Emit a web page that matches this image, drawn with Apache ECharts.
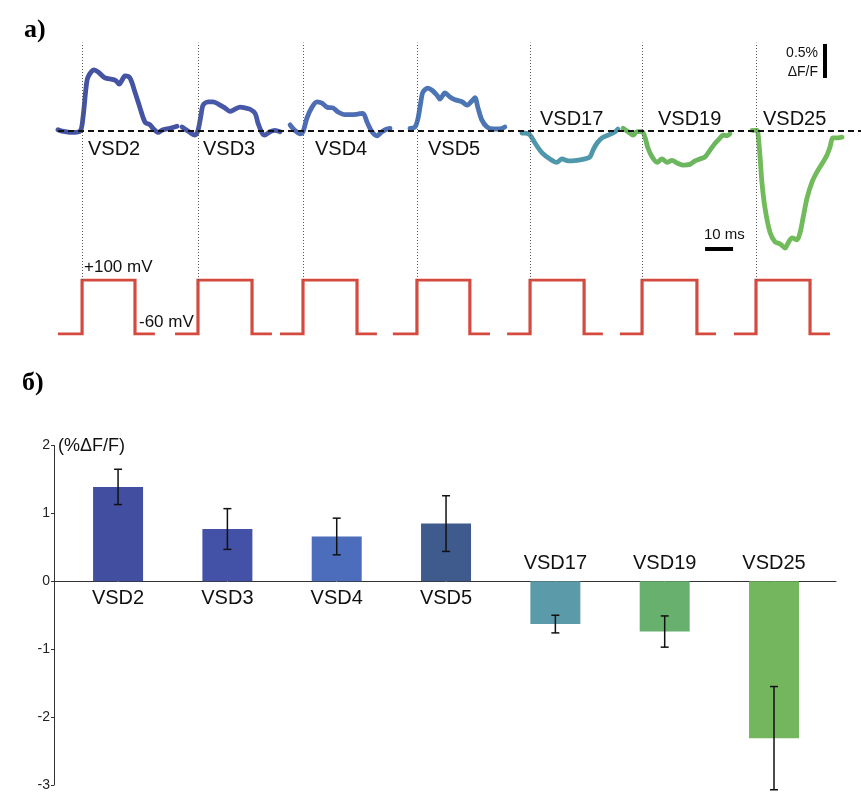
<!DOCTYPE html>
<html><head><meta charset="utf-8">
<script src="https://cdn.jsdelivr.net/npm/echarts@6/dist/echarts.min.js"></script>
<style>html,body{margin:0;padding:0;background:#fff}#c{width:861px;height:792px}</style>
</head><body><div id="c"></div>
<script>
// ---------- DATA ----------
// a) optical traces (time in ms relative to pulse onset, value in %ΔF/F)
const traceNames = ['VSD2','VSD3','VSD4','VSD5','VSD17','VSD19','VSD25'];
const traceOnsets = [8.6, 50, 87.5, 128.2, 168.6, 208.6, 249.3]; // ms on the common time base
const vsd2T = [-8.6,-7.2,-3.6,-0.7,0.3,1.4,2.1,4.3,5.7,8.2,10.7,12.1,13.2,14.3,15.3,17.1,18.9,20.7,22.5,24.3,25.3,27.1,28.9,31.4,33.9];
const vsd2V = [0.02,0,-0.02,0,0.19,0.63,0.79,0.9,0.87,0.78,0.76,0.74,0.69,0.75,0.81,0.78,0.57,0.34,0.13,0.09,0.04,-0.02,0.02,0.04,0.07];
const vsd3T = [-5.7,-3.6,-1.1,0,1.1,1.8,3.6,5.4,7.1,9.6,11.4,13.2,15,16.8,18.6,20.4,21.4,22.9,23.9,25.7,27.5,29.3];
const vsd3V = [0.06,0,-0.06,0.01,0.24,0.38,0.43,0.43,0.40,0.34,0.29,0.32,0.35,0.34,0.32,0.26,0.12,-0.03,-0.06,-0.01,0.01,-0.01];
const vsd4T = [-4.6,-2.9,-1.1,0,1.4,3.2,5,6.8,8.6,10.7,12.5,15,17.5,19.6,21.4,22.9,24.6,26.4,28.2,30,31.1];
const vsd4V = [0.09,0.01,-0.04,-0.01,0.19,0.35,0.43,0.41,0.35,0.34,0.28,0.24,0.24,0.25,0.26,0.13,-0.01,-0.07,-0.01,0.03,0.04];
const vsd5T = [-2.5,-0.7,0.4,1.4,2.1,3.9,5.4,7.1,8.2,10,11.8,13.6,16.1,17.9,19.6,20.7,21.8,23.2,25,27.1,29.6,31.4];
const vsd5V = [0.04,0.06,0.19,0.43,0.57,0.63,0.60,0.53,0.47,0.56,0.50,0.46,0.43,0.38,0.44,0.49,0.34,0.16,0.06,0.03,0.03,0.06];
const vsd17T = [-2.9,-1.8,0,1.8,4.3,7.1,9.6,11.4,13.6,16.8,19.6,21.4,22.5,23.9,25.7,27.9,30.4,31.4];
const vsd17V = [-0.03,-0.03,-0.06,-0.18,-0.32,-0.41,-0.46,-0.41,-0.44,-0.43,-0.41,-0.38,-0.28,-0.18,-0.10,-0.06,-0.01,0.03];
const vsd19T = [-6.8,-5,-3.2,-1.8,0,1.1,2.1,3.6,5.4,7.1,8.9,10.7,12.5,14.6,17.1,18.9,20.7,22.5,24.3,26.1,27.9,28.9,30.4,31.4];
const vsd19V = [0.04,-0.01,-0.06,-0.01,-0.01,-0.10,-0.25,-0.38,-0.46,-0.41,-0.46,-0.43,-0.47,-0.50,-0.49,-0.44,-0.41,-0.38,-0.28,-0.18,-0.10,-0.06,-0.07,-0.04];
const vsd25T = [-1.4,0.4,0.7,1.4,2.1,3.2,5,6.8,8.6,10.4,11.4,12.9,14.6,15.7,16.8,18.2,20,21.8,23.9,25.4,26.4,27.5,29.3,30.7];
const vsd25V = [0.01,0.01,-0.03,-0.35,-0.75,-1.13,-1.49,-1.63,-1.66,-1.72,-1.65,-1.57,-1.60,-1.50,-1.28,-0.99,-0.75,-0.60,-0.46,-0.35,-0.24,-0.10,-0.10,-0.09];
const traceTimes = [vsd2T, vsd3T, vsd4T, vsd5T, vsd17T, vsd19T, vsd25T];
const traceValues = [vsd2V, vsd3V, vsd4V, vsd5V, vsd17V, vsd19V, vsd25V];

// voltage steps (ms on the common time base, mV)
const pulseStart = [0, 41.8, 79.3, 119.6, 160.4, 200.7, 241.4];
const pulseRise  = [8.6, 50, 87.5, 128.2, 168.6, 208.6, 249.3];
const pulseFall  = [27.5, 69.3, 106.8, 147.1, 187.9, 228.2, 268.6];
const pulseEnd   = [34.6, 76.4, 113.9, 154.3, 194.6, 235, 275.7];
const holdingMv = -60;
const stepMv = 100;

// scale bars
const timeBarMs = 10;
const ampBarPct = 0.5;

// b) mean responses
const barCategories = ['VSD2','VSD3','VSD4','VSD5','VSD17','VSD19','VSD25'];
const barMeans = [1.39, 0.77, 0.66, 0.85, -0.63, -0.74, -2.31];
const barErrors = [0.26, 0.30, 0.27, 0.41, 0.13, 0.23, 0.76];

// ---------- STYLE ----------
const traceColors = ['#4553a3','#4758a8','#4e6db5','#4b76b3','#4f97aa','#6bb65e','#71bb5b'];
const barColors = ['#424fa1','#4352a6','#4b6dbb','#3f5a8c','#5b9aa9','#68b06e','#74b65e'];
const pulseColor = '#d44a3f';
const SANS = '"Liberation Sans", Arial, sans-serif';
const SERIF = '"Liberation Serif", "Times New Roman", serif';

const X_MAX = 286.8;

const series = [];
traceNames.forEach((n, i) => {
  series.push({
    type: 'line', name: n, xAxisIndex: 0, yAxisIndex: 0,
    data: traceTimes[i].map((t, k) => [traceOnsets[i] + t, traceValues[i][k]]),
    symbol: 'none', smooth: 0.3,
    lineStyle: { color: traceColors[i], width: 4.8, cap: 'round', join: 'round' },
    z: 3
  });
});
// markers (baseline, onset lines, scale bars)
series.push({
  type: 'line', xAxisIndex: 0, yAxisIndex: 0, data: [], symbol: 'none', z: 5, silent: true,
  markLine: {
    silent: true, symbol: ['none', 'none'], label: { show: false },
    animation: false,
    data: [
      { yAxis: 0, lineStyle: { type: [6, 4], color: '#111', width: 2 } },
      ...traceOnsets.map(o => ({ xAxis: o, lineStyle: { type: [1, 2], color: '#555', width: 1 } })),
      [ { coord: [231.1, -1.735], lineStyle: { type: 'solid', color: '#000', width: 4 } }, { coord: [231.1 + timeBarMs, -1.735] } ],
      [ { coord: [273.9, 0.78], lineStyle: { type: 'solid', color: '#000', width: 4 } }, { coord: [273.9, 0.78 + ampBarPct] } ]
    ]
  }
});
// pulses
pulseStart.forEach((s, i) => {
  series.push({
    type: 'line', xAxisIndex: 1, yAxisIndex: 1, symbol: 'none',
    data: [[s, holdingMv], [pulseRise[i], holdingMv], [pulseRise[i], stepMv], [pulseFall[i], stepMv], [pulseFall[i], holdingMv], [pulseEnd[i], holdingMv]],
    lineStyle: { color: pulseColor, width: 3.2, join: 'miter' }
  });
});
// bars
series.push({
  type: 'bar', xAxisIndex: 2, yAxisIndex: 2, barWidth: 50,
  data: barMeans.map((m, i) => ({ value: [i, m], itemStyle: { color: barColors[i] } })),
  z: 2
});
series.push({
  type: 'custom', xAxisIndex: 2, yAxisIndex: 2, clip: false, z: 4,
  data: barMeans.map((m, i) => [i, m - barErrors[i], m + barErrors[i]]),
  encode: { x: 0, y: [1, 2] },
  renderItem: function (params, api) {
    const x = api.value(0), lo = api.value(1), hi = api.value(2);
    const p1 = api.coord([x, hi]), p2 = api.coord([x, lo]);
    const w = 4;
    const st = { stroke: '#111', lineWidth: 1.5 };
    return { type: 'group', children: [
      { type: 'line', shape: { x1: p1[0], y1: p1[1], x2: p2[0], y2: p2[1] }, style: st },
      { type: 'line', shape: { x1: p1[0] - w, y1: p1[1], x2: p1[0] + w, y2: p1[1] }, style: st },
      { type: 'line', shape: { x1: p2[0] - w, y1: p2[1], x2: p2[0] + w, y2: p2[1] }, style: st }
    ]};
  }
});
// category labels at the zero line
series.push({
  type: 'scatter', xAxisIndex: 2, yAxisIndex: 2, symbolSize: 1, itemStyle: { color: '#ffffff' }, silent: true,
  data: barCategories.map((c, i) => ({ value: [i, 0], label: { position: barMeans[i] >= 0 ? 'bottom' : 'top' } })),
  label: { show: true, formatter: p => barCategories[p.dataIndex], fontSize: 20, fontFamily: SANS, color: '#111', opacity: 1, textBorderWidth: 0, distance: 7 },
  z: 1
});

const hiddenAxis = { show: false };
const graphic = [
  { type: 'text', x: 24, y: 30, style: { text: 'a)', font: 'bold 26px ' + SERIF, fill: '#000', verticalAlign: 'middle', textVerticalAlign: 'middle' } },
  { type: 'text', x: 22, y: 383, style: { text: 'б)', font: 'bold 26px ' + SERIF, fill: '#000', verticalAlign: 'middle', textVerticalAlign: 'middle' } },
  { type: 'text', x: 84, y: 267, style: { text: '+100 mV', font: '17px ' + SANS, fill: '#111', verticalAlign: 'middle', textVerticalAlign: 'middle' } },
  { type: 'text', x: 139, y: 322, style: { text: '-60 mV', font: '17px ' + SANS, fill: '#111', verticalAlign: 'middle', textVerticalAlign: 'middle' } },
  { type: 'text', x: 704, y: 235, style: { text: '10 ms', font: '15px ' + SANS, fill: '#111', verticalAlign: 'middle', textVerticalAlign: 'middle' } },
  { type: 'text', x: 818, y: 53, style: { text: '0.5%', font: '14px ' + SANS, fill: '#111', align: 'right', textAlign: 'right', verticalAlign: 'middle', textVerticalAlign: 'middle' } },
  { type: 'text', x: 818, y: 72, style: { text: 'ΔF/F', font: '14px ' + SANS, fill: '#111', align: 'right', textAlign: 'right', verticalAlign: 'middle', textVerticalAlign: 'middle' } },
  { type: 'text', x: 58, y: 446, style: { text: '(%ΔF/F)', font: '18px ' + SANS, fill: '#111', verticalAlign: 'middle', textVerticalAlign: 'middle' } }
];
const traceLabelPos = [[88,149],[203,149],[315,149],[428,149],[540,119],[658,119],[763,119]];
traceNames.forEach((n, i) => {
  graphic.push({ type: 'text', x: traceLabelPos[i][0], y: traceLabelPos[i][1], style: { text: n, font: '20px ' + SANS, fill: '#111', verticalAlign: 'middle', textVerticalAlign: 'middle' } });
});

const option = {
  animation: false,
  backgroundColor: '#fff',
  grid: [
    { left: 58, top: 42.6, width: 803, height: 237.4 },
    { left: 58, top: 280, width: 803, height: 54 },
    { left: 54, top: 445.5, width: 782, height: 342.5 }
  ],
  xAxis: [
    { type: 'value', gridIndex: 0, min: 0, max: X_MAX, ...hiddenAxis },
    { type: 'value', gridIndex: 1, min: 0, max: X_MAX, ...hiddenAxis },
    { type: 'value', gridIndex: 2, min: -0.586, max: 6.567,
      axisLine: { show: true, onZero: true, lineStyle: { color: '#333', width: 1 } },
      axisTick: { show: false }, axisLabel: { show: false }, splitLine: { show: false } }
  ],
  yAxis: [
    { type: 'value', gridIndex: 0, min: -2.19, max: 1.3, ...hiddenAxis },
    { type: 'value', gridIndex: 1, min: holdingMv, max: stepMv, ...hiddenAxis },
    { type: 'value', gridIndex: 2, min: -3, max: 2, interval: 1,
      axisLine: { show: true, onZero: false, lineStyle: { color: '#333', width: 1 } },
      axisTick: { show: true, length: 3, lineStyle: { color: '#333' } },
      axisLabel: { fontSize: 14, fontFamily: SANS, color: '#222', margin: 4 },
      splitLine: { show: false } }
  ],
  graphic: graphic,
  series: series
};
const chart = echarts.init(document.getElementById('c'), null, { renderer: 'canvas' });
chart.setOption(option);
</script></body></html>
